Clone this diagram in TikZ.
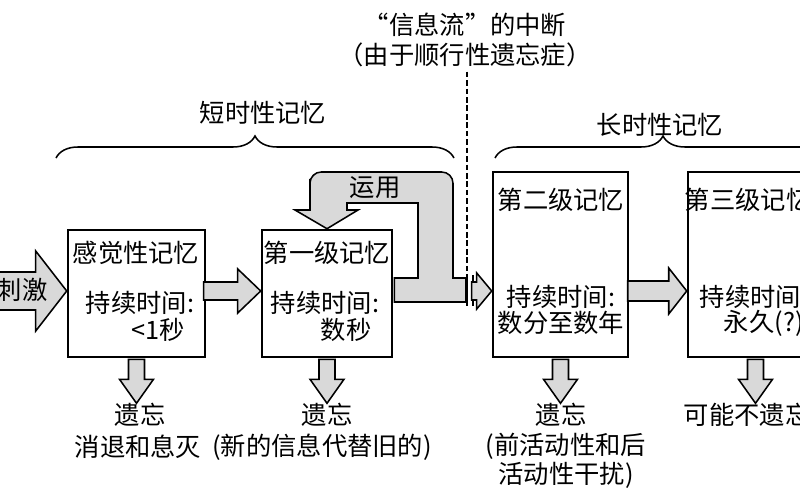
\documentclass[tikz,border=0pt]{standalone}
\usepackage{fontspec}
\setmainfont{Noto Sans CJK SC}
\usetikzlibrary{calc,decorations.pathreplacing}

\begin{document}
\begin{tikzpicture}[x=0.025cm, y=-0.025cm,
    font=\fontsize{18}{21}\selectfont,
    memory box/.style={draw, line width=1.8pt, inner sep=0pt,
        minimum width=3.375cm, minimum height=4.625cm},
    short box/.style={memory box, minimum height=3.175cm},
    flow/.style={draw, line width=1.1pt, fill=gray!30, line join=miter},
    break bar/.style={line width=1.4pt},
    store brace/.style={decorate, line width=1.1pt,
        decoration={brace, amplitude=0.55cm}}]

    \useasboundingbox (0,0) rectangle (800,500);
    \clip (0,0) rectangle (800,500);

    \coordinate (flow row)  at (0,291);
    \coordinate (loop high) at (0,278);
    \coordinate (loop low)  at (0,302);
    \coordinate (gap top)   at (467,275);

    \node[short box, minimum width=3.425cm] (sensory) at (136.5,293.5) {};
    \node[short box, minimum width=3.25cm]  (first)   at (327,293.5)   {};
    \node[memory box] (second) at (560.5,264.5) {};
    \node[memory box] (third)  at (755.5,264.5) {};

    \node (sensory title) at (136,253) {感觉性记忆};
    \node (sensory time)  at (140,303) {持续时间:};
    \node (sensory value) at (158,330) {<1秒};
    \node (first title)   at (327,253) {第一级记忆};
    \node (first time)    at (325,303) {持续时间:};
    \node (first value)   at (346,330) {数秒};
    \node (second title)  at (561,200) {第二级记忆};
    \node (second time)   at (561,297) {持续时间:};
    \node (second value)  at (561,323) {数分至数年};
    \node[anchor=west] (third title) at (680,200) {第三级记忆};
    \node[anchor=west] (third time)  at (695,297) {持续时间:};
    \node[anchor=west] (third value) at (719,323) {永久(?)};

    \draw[flow] (sensory.west |- flow row) -- ++(-31,-40) -- ++(0,21) -- ++(-60,0)
        -- ++(0,38) -- ++(60,0) -- ++(0,21) -- cycle;
    \node (stimulus) at (22,290) {刺激};

    \draw[flow] (first.west |- flow row) -- ++(-23,-22) -- ++(0,13) -- ++(-34,0)
        -- ++(0,18) -- ++(34,0) -- ++(0,13) -- cycle;
    \draw[flow] (third.west |- flow row) -- ++(-18,-23) -- ++(0,13) -- ++(-41,0)
        -- ++(0,20) -- ++(41,0) -- ++(0,13) -- cycle;

    \draw[flow] (first.east |- loop low) ++(1,0) -- (466,302) -- (466,278) -- (453,278)
        -- (453,260) [rounded corners=8pt] -- (453,172) -- (310,172) -- (310,190)
        [sharp corners] -- (310,210) -- (295,210) -- (first.north) -- (358,210)
        -- (347,210) -- (347,203) -- (418,203) -- (418,278)
        -- ($(first.east |- loop high)+(1,0)$) -- cycle;
    \node (rehearsal) at (375,188) {运用};

    \draw[break bar] (gap top) -- ++(0,31);
    \draw[break bar] ($(gap top)+(6,0)$) -- ++(0,31);
    \draw[flow] (second.west |- flow row) -- ++(-15,-18) -- ++(0,9) -- ++(-5,0)
        -- ++(0,18) -- ++(5,0) -- ++(0,9) -- cycle;

    \node[align=center] (break note) at (465,40) {“信息流”的中断\\（由于顺行性遗忘症）};
    \draw[dash pattern=on 4pt off 2pt, line width=0.8pt]
        (break note.south -| gap top) -- (gap top);

    \foreach \store in {sensory, first, second, third}
    \draw[flow] (\store.south) ++(-8,1) -- ++(0,20) -- ++(-9,0) -- ++(17,24)
        -- ++(17,-24) -- ++(-9,0) -- ++(0,-20) -- cycle;

    \node (sensory loss)  at (140,415) {遗忘};
    \node (sensory cause) at (138,447) {消退和息灭};
    \node (first loss)    at (327,415) {遗忘};
    \node (first cause)   at (322,447) {(新的信息代替旧的)};
    \node (second loss)   at (561,415) {遗忘};
    \node[align=center] (second cause) at (566,461) {(前活动性和后\\活动性干扰)};
    \node[anchor=west] (third loss) at (679,415) {可能不遗忘};

    \draw[store brace] (56,158) -- (454,158);
    \draw[store brace] (495,158) -- (831,158);
    \node (short term) at (263,113) {短时性记忆};
    \node (long term)  at (660,125) {长时性记忆};
  \end{tikzpicture}
\end{document}
